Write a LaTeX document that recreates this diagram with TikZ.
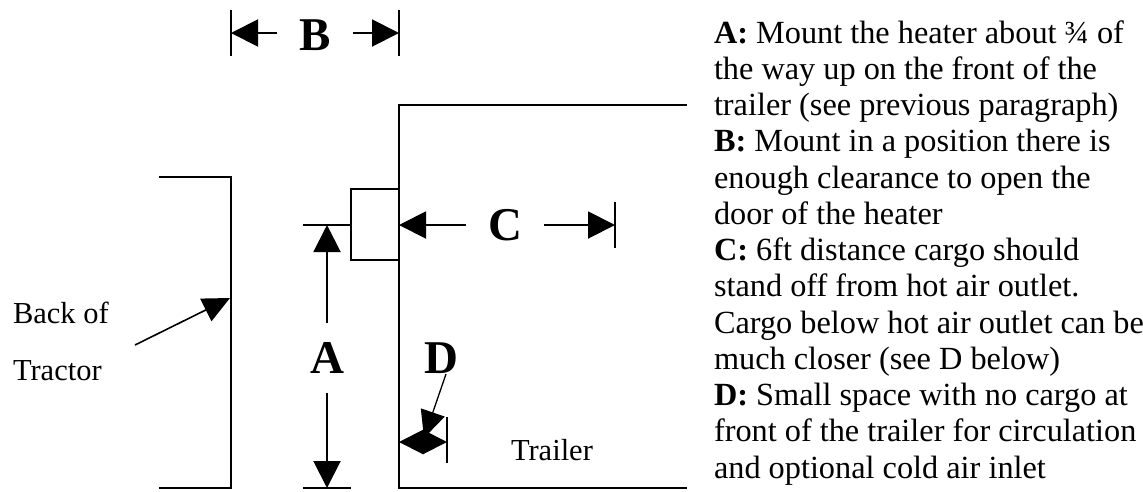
\documentclass[tikz,border=0pt]{standalone}
\usepackage{fontspec}
\setmainfont{Liberation Serif}
\usetikzlibrary{arrows.meta}

\begin{document}
\begin{tikzpicture}[x=1pt, y=-1pt, line width=2pt,
	dimarrow/.style={-{Triangle[length=27pt,width=27pt]}},
	twoarrow/.style={{Triangle[length=24pt,width=24pt]}-{Triangle[length=24pt,width=24pt]}},
	pointer/.style={-{Triangle[length=27pt,width=25pt]}, line width=1.6pt},
	dimlabel/.style={font=\fontsize{47}{47}\selectfont\bfseries, inner xsep=21pt, inner ysep=18pt},
	note/.style={font=\fontsize{30.5}{57}\selectfont, align=left, inner sep=0pt},
	heater/.style={draw, line width=1.5pt, minimum width=48pt, minimum height=71pt, inner sep=0pt}]
\useasboundingbox (0,0) rectangle (1143,491);

% back of the tractor
\coordinate (tractor top) at (159,177);
\coordinate (tractor top wall) at (231,177);
\coordinate (tractor bottom wall) at (231,488);
\coordinate (tractor bottom) at (159,488);
\draw (tractor top) -- (tractor top wall) -- (tractor bottom wall) -- (tractor bottom);

% front of the trailer
\coordinate (trailer top) at (687,105);
\coordinate (trailer top wall) at (399,105);
\coordinate (trailer bottom wall) at (399,488);
\coordinate (trailer bottom) at (687,488);
\draw (trailer top) -- (trailer top wall) -- (trailer bottom wall) -- (trailer bottom);

% heater
\node[heater] (heater) at (375,224.5) {};

% B
\node[dimlabel] (B) at (315,35) {B};
\coordinate (b left) at (231,33);
\coordinate (b right) at (399,33);
\draw (231,10) -- (231,56);
\draw (399,10) -- (399,56);
\draw[dimarrow] (B.west |- b left) -- (b left);
\draw[dimarrow] (B.east |- b right) -- (b right);

% A
\node[dimlabel] (A) at (327,358) {A};
\coordinate (a top) at (327,225);
\coordinate (a bottom) at (327,488);
\draw (303,225) -- (heater.west |- a top);
\draw (303,488) -- (351,488);
\draw[dimarrow] (A.north) -- (a top);
\draw[dimarrow] (A.south) -- (a bottom);

% C
\node[dimlabel] (C) at (505,225) {C};
\coordinate (c wall) at (399,225);
\coordinate (c end) at (615,225);
\draw (615,202) -- (615,248);
\draw[dimarrow] (C.west) -- (c wall);
\draw[dimarrow] (C.east) -- (c end);

% D
\node[dimlabel, inner sep=0pt] (D) at (441,358) {D};
\coordinate (d tail) at (446,374);
\coordinate (d tip) at (424,438);
\coordinate (d wall) at (399,442);
\coordinate (d end) at (447,442);
\draw (447,417) -- (447,463);
\draw[pointer, line width=1.3pt] (d tail) -- (d tip);
\draw[twoarrow] (d wall) -- (d end);

% labels (base is the last line)
\node[note, anchor=base west] (back) at (12,380) {Back of\\Tractor};
\coordinate (back tail) at (135,345);
\coordinate (back tip) at (230,298);
\draw[pointer] (back tail) -- (back tip);
\node[note, anchor=base west] (trailer) at (510,460) {Trailer};

% notes
\node[anchor=base west, align=left, inner sep=0pt,
	font=\fontsize{32.3}{36.25}\selectfont] (notes) at (713,478)
	{\textbf{A:} Mount the heater about ¾ of\\
	the way up on the front of the\\
	trailer (see previous paragraph)\\
	\textbf{B:} Mount in a position there is\\
	enough clearance to open the\\
	door of the heater\\
	\textbf{C:} 6ft distance cargo should\\
	stand off from hot air outlet.\\
	Cargo below hot air outlet can be\\
	much closer (see D below)\\
	\textbf{D:} Small space with no cargo at\\
	front of the trailer for circulation\\
	and optional cold air inlet};
\end{tikzpicture}
\end{document}
